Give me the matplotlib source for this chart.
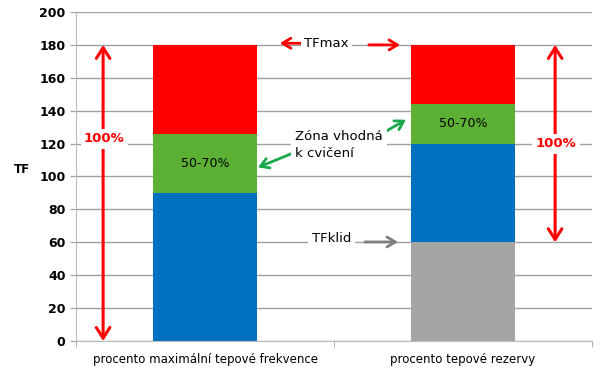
import matplotlib.pyplot as plt
import numpy as np

# data
categories = ["procento maximální tepové frekvence", "procento tepové rezervy"]
gray_part = [0, 60]
blue_part = [90, 60]
green_part = [36, 24]
red_part = [54, 36]
seg_colors = ["#A5A5A5", "#0070C0", "#5CB135", "#FF0000"]
yticks = list(range(0, 201, 20))

fig = plt.figure(figsize=(6, 3.77), dpi=100)
ax = fig.add_axes([0.1267, 0.0955, 0.86, 0.8727])

x = np.arange(len(categories))
bottom = np.zeros(len(categories))
for part, col in zip([gray_part, blue_part, green_part, red_part], seg_colors):
    ax.bar(x, part, width=0.4, bottom=bottom, color=col, zorder=2)
    bottom += np.array(part)

ax.set_xlim(-0.5, 1.5)
ax.set_ylim(0, 200)
ax.set_yticks(yticks)
ax.yaxis.grid(True, color="#a0a0a0", lw=1, zorder=0)
ax.set_axisbelow(True)
ax.set_xticks(x)
ax.set_xticklabels(categories, fontsize=8.5)
ax.tick_params(axis="x", length=0, pad=9)
ax.set_xticks([-0.5, 0.5, 1.5], minor=True)
ax.tick_params(axis="x", which="minor", length=4, color="#a0a0a0")
ax.tick_params(axis="y", length=4, color="#a0a0a0", labelsize=9)
for lab in ax.get_yticklabels():
    lab.set_fontweight("bold")
for s in ["top", "right"]:
    ax.spines[s].set_visible(False)
ax.spines["left"].set_color("#bbbbbb")
ax.spines["bottom"].set_color("#bbbbbb")
ax.set_ylabel("TF", rotation=0, fontweight="bold", fontsize=8.5, labelpad=18)
ax.yaxis.set_label_coords(-0.105, 0.5)

white = dict(facecolor="white", edgecolor="none", pad=2.5)
red = "#FF0000"
green = "#1AA84A"
dbl = "<->,head_length=0.55,head_width=0.35"
sgl = "->,head_length=0.5,head_width=0.3"

# double arrows 100%
top_val = bottom
ax.annotate("", xy=(-0.395, top_val[0]), xytext=(-0.395, 0),
            arrowprops=dict(arrowstyle=dbl, color=red, lw=2.2, mutation_scale=14, shrinkA=0, shrinkB=0), zorder=3)
ax.text(-0.39, 123, "100%", color=red, fontsize=9.5, fontweight="bold", ha="center", va="center", bbox=white, zorder=4)
ax.annotate("", xy=(1.357, top_val[1]), xytext=(1.357, gray_part[1]),
            arrowprops=dict(arrowstyle=dbl, color=red, lw=2.2, mutation_scale=14, shrinkA=0, shrinkB=0), zorder=3)
ax.text(1.36, 120, "100%", color=red, fontsize=9.5, fontweight="bold", ha="center", va="center", bbox=white, zorder=4)

# TFmax
ax.text(0.47, 181, "TFmax", fontsize=9.5, ha="center", va="center", bbox=white, zorder=4)
ax.annotate("", xy=(0.29, 181), xytext=(0.39, 181),
            arrowprops=dict(arrowstyle=sgl, color=red, lw=2, mutation_scale=12, shrinkA=0, shrinkB=0), zorder=3)
ax.annotate("", xy=(0.756, 180), xytext=(0.635, 180),
            arrowprops=dict(arrowstyle=sgl, color=red, lw=2, mutation_scale=12, shrinkA=0, shrinkB=0), zorder=3)

# Zona vhodna
ax.text(0.35, 119, "Zóna vhodná\nk cvičení", fontsize=9.5, ha="left", va="center",
        linespacing=1.4, bbox=dict(facecolor="white", edgecolor="none", pad=3), zorder=4)
ax.annotate("", xy=(0.205, 105.5), xytext=(0.345, 114.5),
            arrowprops=dict(arrowstyle=sgl, color=green, lw=2, mutation_scale=12, shrinkA=0, shrinkB=0), zorder=3)
ax.annotate("", xy=(0.779, 134.5), xytext=(0.69, 126.5),
            arrowprops=dict(arrowstyle=sgl, color=green, lw=2, mutation_scale=12, shrinkA=0, shrinkB=0), zorder=3)
ax.text(0, blue_part[0] + green_part[0] / 2, "50-70%", fontsize=9, ha="center", va="center", zorder=4)
ax.text(1, gray_part[1] + blue_part[1] + green_part[1] / 2, "50-70%", fontsize=9, ha="center", va="center", zorder=4)

# TFklid
ax.text(0.49, 62.5, "TFklid", fontsize=9.5, ha="center", va="center", bbox=white, zorder=4)
ax.annotate("", xy=(0.748, 60.2), xytext=(0.62, 60.2),
            arrowprops=dict(arrowstyle=sgl, color="#7F7F7F", lw=2, mutation_scale=12, shrinkA=0, shrinkB=0), zorder=3)

fig.savefig("out.png", dpi=100)
